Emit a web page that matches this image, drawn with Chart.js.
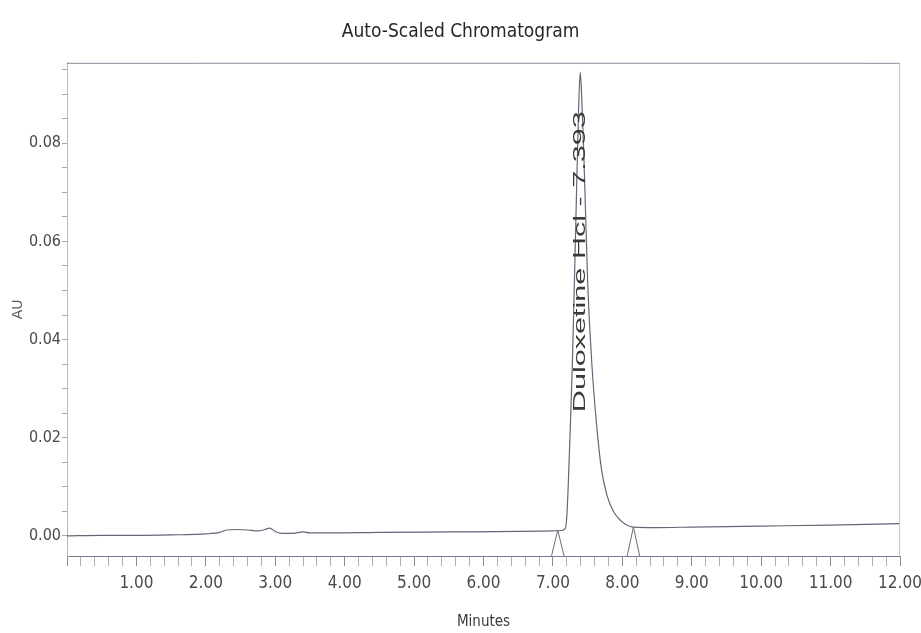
<!DOCTYPE html>
<html>
<head>
<meta charset="utf-8">
<title>Auto-Scaled Chromatogram</title>
<script src="https://cdn.jsdelivr.net/npm/chart.js@4/dist/chart.umd.min.js"></script>
<style>
  html, body { margin: 0; padding: 0; background: #fff; }
  canvas { display: block; }
</style>
</head>
<body>
<canvas id="chromChart" width="921" height="633"></canvas>
<script>
// retention time (min) and absorbance (AU) of the trace
const traceTime = [
    0, 0.5, 1.0, 1.5, 2.0, 2.2, 2.3, 2.45, 2.6, 2.75, 2.85, 2.92, 3.0, 3.1, 3.25, 3.4, 3.5, 3.8,
    4.5, 5.5, 6.5, 7.0, 7.13, 7.18, 7.20, 7.22, 7.25, 7.28, 7.31, 7.34, 7.37, 7.393,
    7.41, 7.44, 7.47, 7.50, 7.54, 7.58, 7.64, 7.70, 7.78, 7.87, 7.97, 8.05, 8.15,
    8.5, 9, 10, 11, 12
];
const traceAU = [
    0.0000, 0.0001, 0.0001, 0.0002, 0.0004, 0.0007, 0.0012, 0.0013, 0.0012, 0.0010, 0.0013, 0.0016, 0.0009, 0.0005, 0.0005, 0.0008, 0.0006, 0.0006,
    0.0007, 0.0008, 0.0009, 0.0010, 0.0011, 0.0016, 0.0040, 0.0100, 0.0220, 0.0350, 0.0520, 0.0700, 0.0870, 0.0945,
    0.0910, 0.0800, 0.0660, 0.0520, 0.0400, 0.0310, 0.0210, 0.0135, 0.0082, 0.0050, 0.0032, 0.0023, 0.0018,
    0.0017, 0.0018, 0.0020, 0.0022, 0.0025
];

// peak start / end markers (null breaks the line)
const markerTime = [6.98, 7.07, 7.16, 7.6, 8.07, 8.16, 8.25];
const markerAU = [-0.0041, 0.0012, -0.0041, null, -0.0041, 0.0018, -0.0041];

const peakName = "Duloxetine Hcl";
const peakTime = 7.393;
const peakLabelAU = 0.0252;

const xTicks = [0, 12, 0.2];
const yTicks = [-0.0041, 0.0964, 0.005];

const labelFont = "'Liberation Sans Narrow', 'DejaVu Sans Condensed', 'Arial Narrow', sans-serif";

const framePlugin = {
    id: "frame",
    afterDraw(chart) {
        const c = chart.ctx;
        const a = chart.chartArea;
        c.save();
        c.lineWidth = 1;
        c.strokeStyle = "#8c869a";
        c.beginPath();
        c.moveTo(a.left, a.top + 0.5);
        c.lineTo(a.right, a.top + 0.5);
        c.stroke();
        c.strokeStyle = "#c6c6cc";
        c.beginPath();
        c.moveTo(a.right - 0.5, a.top);
        c.lineTo(a.right - 0.5, a.bottom);
        c.stroke();
        c.restore();
    }
};

const peakLabelPlugin = {
    id: "peakLabel",
    afterDatasetsDraw(chart) {
        const c = chart.ctx;
        const x = chart.scales.x.getPixelForValue(peakTime);
        const y = chart.scales.y.getPixelForValue(peakLabelAU);
        c.save();
        c.translate(x, y);
        c.rotate(-Math.PI / 2);
        c.scale(1.8, 1);
        c.font = "17px 'Liberation Sans', Arial, sans-serif";
        c.fillStyle = "#3a3a3a";
        c.textAlign = "left";
        c.textBaseline = "middle";
        c.fillText(peakName + " - " + peakTime.toFixed(3), 0, 0);
        c.restore();
    }
};

const chromCtx =
document.getElementById(
"chromChart"
);

new Chart(chromCtx, {

    type: "line",

    data: {

        datasets: [

            {
                label: "Trace",
                data: traceTime.map((t, i) => ({ x: t, y: traceAU[i] })),
                borderColor: "#6a6477",
                borderWidth: 1.2,
                pointRadius: 0,
                cubicInterpolationMode: "monotone",
                fill: false
            },

            {
                label: "Markers",
                data: markerTime.map((t, i) => ({ x: t, y: markerAU[i] })),
                borderColor: "#6e6e6e",
                borderWidth: 1,
                pointRadius: 0,
                tension: 0,
                spanGaps: false,
                fill: false
            }

        ]

    },

    plugins: [framePlugin, peakLabelPlugin],

    options: {

        responsive: false,
        animation: false,
        layout: { padding: { left: 21, right: 21, top: 0, bottom: 0 } },

        plugins: {
            legend: { display: false },
            tooltip: { enabled: false },
            title: {
                display: true,
                text: "Auto-Scaled Chromatogram",
                color: "#262626",
                font: { family: labelFont, size: 19, weight: "normal", lineHeight: 1.2 },
                padding: { top: 21, bottom: 19 }
            }
        },

        scales: {

            x: {
                type: "linear",
                min: xTicks[0],
                max: xTicks[1],
                afterFit: (s) => { s.height = 77; s.paddingRight = 0; s.paddingLeft = 0; },
                border: { color: "#7e7893", width: 1 },
                grid: {
                    drawOnChartArea: false,
                    drawTicks: true,
                    tickLength: 10,
                    tickColor: (ctx) => Math.abs(ctx.tick.value - Math.round(ctx.tick.value)) < 1e-6 ? "#8a8a8a" : "#b0b0b0"
                },
                ticks: {
                    stepSize: xTicks[2],
                    autoSkip: false,
                    maxRotation: 0,
                    includeBounds: false,
                    padding: 7,
                    color: "#4a4a4a",
                    font: { family: labelFont, size: 17 },
                    callback: (v) => (Math.abs(v - Math.round(v)) < 1e-6 && v > 0.5) ? v.toFixed(2) : ""
                },
                title: {
                    display: true,
                    text: "Minutes",
                    color: "#3a3a3a",
                    font: { family: labelFont, size: 15, lineHeight: 1.2 },
                    padding: { top: 0, bottom: 2 }
                }
            },

            y: {
                type: "linear",
                min: yTicks[0],
                max: yTicks[1],
                afterFit: (s) => { s.width = 46; },
                border: { color: "#b8b8c0", width: 1, dash: [2, 2] },
                grid: {
                    drawOnChartArea: false,
                    drawTicks: true,
                    tickLength: 5,
                    tickColor: "#a8a8b0"
                },
                ticks: {
                    stepSize: yTicks[2],
                    autoSkip: false,
                    includeBounds: false,
                    padding: 1,
                    color: "#4a4a4a",
                    font: { family: labelFont, size: 16 },
                    callback: (v) => Math.abs(v / 0.02 - Math.round(v / 0.02)) < 1e-6 ? Math.abs(v).toFixed(2) : ""
                },
                title: {
                    display: true,
                    text: "AU",
                    color: "#5a5a5a",
                    font: { family: "'DejaVu Sans', sans-serif", size: 14, lineHeight: 1.2 },
                    padding: { top: -11, bottom: 0 }
                }
            }

        }

    }

});
</script>
</body>
</html>
